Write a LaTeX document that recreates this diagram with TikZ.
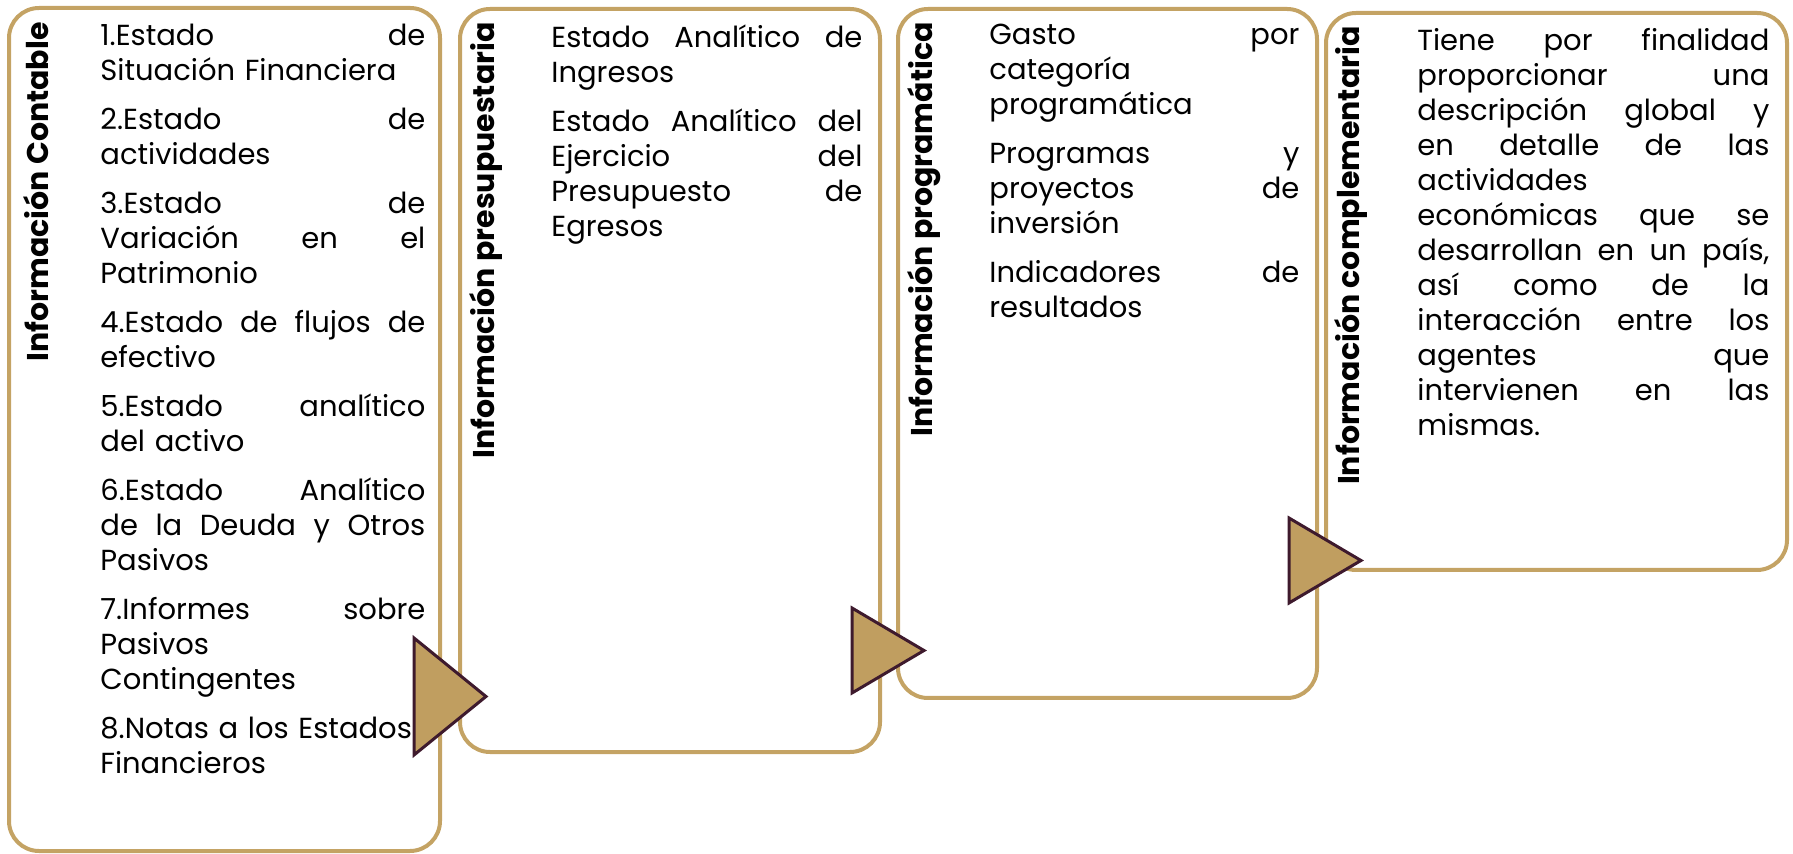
\documentclass[tikz,border=0pt]{standalone}
\usepackage{fontspec}
\setmainfont{Poppins}
\definecolor{gold}{RGB}{196,163,100}
\definecolor{trifill}{RGB}{192,158,96}
\definecolor{triline}{RGB}{62,26,45}
\begin{document}
\begin{tikzpicture}[x=0.5pt,y=-0.5pt,
  box/.style={draw=gold, line width=2pt, rounded corners=15pt, inner sep=0pt},
  ttl/.style={font=\fontsize{15pt}{18pt}\selectfont\bfseries, rotate=90, anchor=east, inner sep=0pt},
  body/.style={font=\fontsize{14.5pt}{17.5pt}\selectfont, align=left, anchor=north west, inner sep=0pt},
  tri/.style={fill=trifill, draw=triline, line width=1.5pt, line join=miter}]
\useasboundingbox (0,0) rectangle (1793,854);
% boxes
\node[box, minimum width=215.5pt, minimum height=421.5pt] (b1) at (224.5,429.5) {};
\node[box, minimum width=210pt, minimum height=371.5pt] (b2) at (670,380.5) {};
\node[box, minimum width=209.5pt, minimum height=344.5pt] (b3) at (1107.5,353.5) {};
\node[box, minimum width=230.5pt, minimum height=278.5pt] (b4) at (1556.5,291.5) {};
% titles
\node[ttl] (t1) at (36,22) {Información Contable};
\node[ttl] (t2) at (486,22) {Información presupuestaria};
\node[ttl] (t3) at (924,22) {Información programática};
\node[ttl] (t4) at (1351,26) {Información complementaria};
% body texts
\node[body, text width=162.5pt] (x1) at (100,24) {%
1.Estado \hfill de\\ Situación Financiera\\[7pt]
2.Estado \hfill de\\ actividades\\[7pt]
3.Estado \hfill de\\ Variación \hfill en \hfill el\\ Patrimonio\\[7pt]
4.Estado \hfill de \hfill flujos \hfill de\\ efectivo\\[7pt]
5.Estado \hfill analítico\\ del activo\\[7pt]
6.Estado \hfill Analítico\\ de \hfill la \hfill Deuda \hfill y \hfill Otros\\ Pasivos\\[7pt]
7.Informes \hfill sobre\\ Pasivos\\ Contingentes\\[7pt]
\makebox[\linewidth][l]{8.Notas a los Estados}\\ Financieros};
\node[body, text width=155.5pt] (x2) at (551,24) {%
Estado \hfill Analítico \hfill de\\ Ingresos\\[7pt]
Estado \hfill Analítico \hfill del\\ Ejercicio \hfill del\\ Presupuesto \hfill de\\ Egresos};
\node[body, text width=155pt] (x3) at (989,24) {%
Gasto \hfill por\\ categoría\\ programática\\[7pt]
Programas \hfill y\\ proyectos \hfill de\\ inversión\\[7pt]
Indicadores \hfill de\\ resultados};
\node[body, text width=176pt] (x4) at (1417,28) {%
Tiene \hfill por \hfill finalidad\\ proporcionar \hfill una\\ descripción \hfill global \hfill y\\
en \hfill detalle \hfill de \hfill las\\ actividades\\ económicas \hfill que \hfill se\\
desarrollan \hfill en \hfill un \hfill país,\\ así \hfill como \hfill de \hfill la\\
interacción \hfill entre \hfill los\\ agentes \hfill que\\ intervienen \hfill en \hfill las\\ mismas.};
% arrows (triangles)
\coordinate (a1) at (414,638);
\draw[tri] (a1) -- ++(0,117) -- ++(72,-58.5) -- cycle;
\coordinate (a2) at (852,608);
\draw[tri] (a2) -- ++(0,85) -- ++(72,-42.5) -- cycle;
\coordinate (a3) at (1289,518);
\draw[tri] (a3) -- ++(0,85) -- ++(72,-42.5) -- cycle;
\end{tikzpicture}
\end{document}
